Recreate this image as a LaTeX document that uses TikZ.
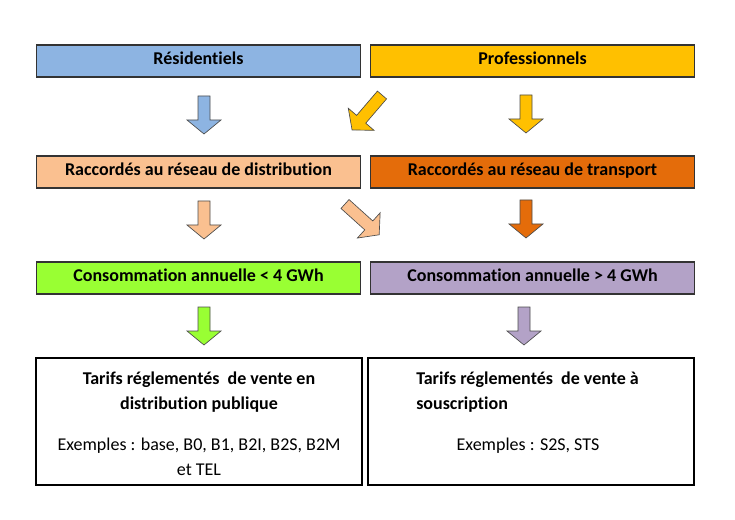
\documentclass[tikz,border=0pt]{standalone}
\usepackage{fontspec}
\setmainfont{Carlito}[Ligatures={NoCommon,NoContextual}]
\definecolor{resid}{HTML}{8DB4E2}
\definecolor{profe}{HTML}{FFC000}
\definecolor{distr}{HTML}{FAC090}
\definecolor{trans}{HTML}{E46C0A}
\definecolor{small}{HTML}{99FF33}
\definecolor{large}{HTML}{B3A2C7}
\tikzset{
  cat/.style={draw=black!80,line width=0.9pt,minimum width=243pt,minimum height=24pt,text height=1.6ex,text depth=0.4ex,font=\bfseries\fontsize{13.5}{16}\selectfont},
  tarif/.style={draw=black,line width=1.5pt,minimum width=244pt,minimum height=95pt},
  txt/.style={font=\fontsize{13.5}{16}\selectfont,inner sep=0pt},
  btxt/.style={txt,font=\bfseries\fontsize{13.5}{16}\selectfont},
  pics/blockarrow/.style args={#1/#2}{code={
    \fill[#1,draw=black!70,line width=0.5pt]
      (0,-6) -- (#2-14,-6) -- (#2-14,-17) -- (#2,0) -- (#2-14,17) -- (#2-14,6) -- (0,6) -- cycle;}}
}
\begin{document}
\begin{tikzpicture}[x=0.75pt,y=-0.75pt]
\useasboundingbox (0,0) rectangle (735,520);
% first row
\node[cat,fill=resid] (resid) at (198.5,61) {Résidentiels};
\node[cat,fill=profe] (profe) at (532.5,61) {Professionnels};
% second row
\node[cat,fill=distr] (distr) at (198.5,172) {Raccordés au réseau de distribution};
\node[cat,fill=trans] (trans) at (532.5,172) {Raccordés au réseau de transport};
% third row
\node[cat,fill=small] (small) at (198.5,278) {Consommation annuelle < 4 GWh};
\node[cat,fill=large] (large) at (532.5,278) {Consommation annuelle > 4 GWh};
% arrows
\pic[rotate=-90] at (204,96) {blockarrow={resid/38}};
\pic[rotate=-130.6] at (382,95) {blockarrow={profe/46}};
\pic[rotate=-90] at (526,95) {blockarrow={profe/38}};
\pic[rotate=-90] at (204,201) {blockarrow={distr/38}};
\pic[rotate=-42] at (345,204) {blockarrow={distr/46}};
\pic[rotate=-90] at (526,200) {blockarrow={trans/38}};
\pic[rotate=-90] at (204,307) {blockarrow={small/38}};
\pic[rotate=-90] at (524,307) {blockarrow={large/38}};
% tariffs
\node[tarif] (regl) at (199,421.5) {};
\node[tarif] (sousc) at (531,421.5) {};
\node[btxt] (regla) at (199,380) {Tarifs réglementés \ de vente en};
\node[btxt] (reglb) at (199,405) {distribution publique};
\node[txt] (reglc) at (199,446) {Exemples : base, B0, B1, B2I, B2S, B2M};
\node[txt] (regld) at (199,470) {et TEL};
\node[btxt,anchor=west] (siga) at (416,380) {Tarifs réglementés \ de vente à};
\node[btxt,anchor=west] (sigb) at (416,405) {souscription};
\node[txt] (sigc) at (528,446) {Exemples : S2S, STS};
\end{tikzpicture}
\end{document}
